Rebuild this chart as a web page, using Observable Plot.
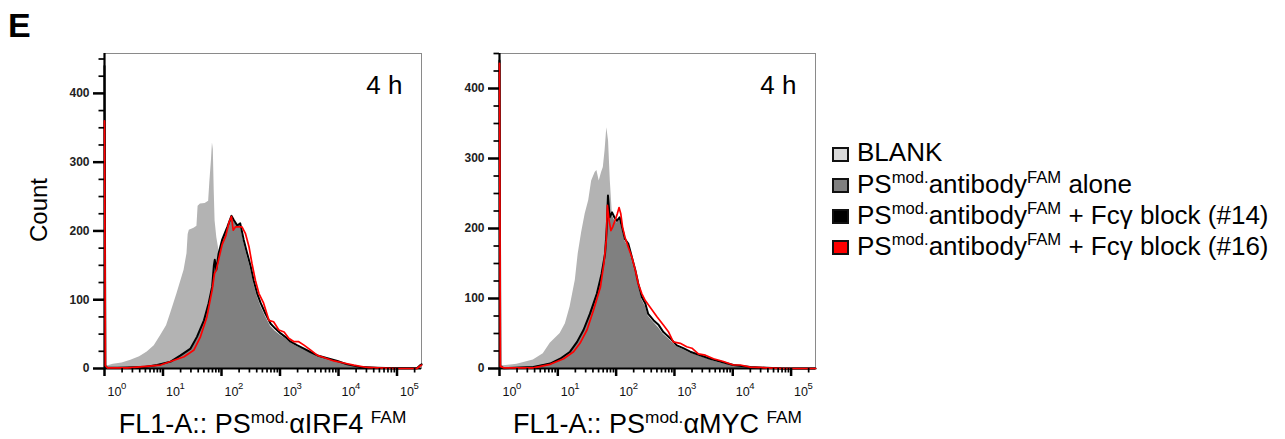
<!DOCTYPE html>
<html><head><meta charset="utf-8">
<script src="https://cdn.jsdelivr.net/npm/d3@7"></script>
<script src="https://cdn.jsdelivr.net/npm/@observablehq/plot@0.6"></script>
<style>
body{margin:0;background:#fff;font-family:"Liberation Sans",Arial,Helvetica,sans-serif;color:#000;}
#wrap{position:relative;width:1285px;height:439px;overflow:hidden;background:#fff;}
.abs{position:absolute;line-height:1;white-space:nowrap;}
.sup{position:relative;top:-0.6em;font-size:0.64em;}
.sq{position:absolute;width:17px;height:15px;box-sizing:border-box;border:2px solid #111;}
</style></head>
<body><div id="wrap">
<div class="abs" style="left:8px;top:8px;font-size:34px;font-weight:bold;">E</div>
<div class="abs" id="count" style="left:-11px;top:198px;width:100px;font-size:24px;text-align:center;transform:rotate(-90deg);">Count</div>
<div class="abs" id="p1" style="left:60px;top:45px;"></div>
<div class="abs" id="p2" style="left:455px;top:45px;"></div>
<div class="abs" id="t1" style="left:62.5px;top:411px;width:400px;text-align:center;font-size:27px;"></div>
<div class="abs" id="t2" style="left:457.5px;top:411px;width:400px;text-align:center;font-size:27px;"></div>
<div id="legend"></div>
</div>
<script>
// ---- axis / tick data ----
const xDomain = [1, 262144];
const xMajor = [1, 10, 100, 1000, 10000, 100000];
const xTickBase = "10";
const xTickExp = ["0", "1", "2", "3", "4", "5"];
const xMinorMult = [2, 3, 4, 5, 6, 7, 8, 9];
const yMajor = [0, 100, 200, 300, 400];
const yMinor = [25, 50, 75, 125, 150, 175, 225, 250, 275, 325, 350, 375, 425, 450];
const timeLabel = "4 h";
const panelTitles = [["FL1-A:: PS", "mod.", "αIRF4 ", "FAM"], ["FL1-A:: PS", "mod.", "αMYC ", "FAM"]];
const legendLabels = [
  ["BLANK"],
  ["PS", "mod.", "antibody", "FAM", " alone"],
  ["PS", "mod.", "antibody", "FAM", " + Fcγ block (#14)"],
  ["PS", "mod.", "antibody", "FAM", " + Fcγ block (#16)"]
];
const legendColors = ["#d9d9d9", "#808080", "#000000", "#ff0000"];
const yMaxIRF4 = 458, yMaxMYC = 450;

// ---- series: [log10(FL1-A), count] ----
const blankIRF4 = [[0,280],[0.015,5],[0.06,4],[0.15,6],[0.3,8],[0.45,12],[0.6,17],[0.73,24],[0.85,33],[0.96,48],[1.06,62],[1.13,80],[1.24,109],[1.36,143],[1.41,167],[1.43,195],[1.45,201],[1.53,204],[1.58,207],[1.60,236],[1.64,239],[1.72,240],[1.78,243],[1.80,270],[1.83,305],[1.845,328],[1.86,318],[1.875,260],[1.89,215],[1.92,190],[1.96,170],[2.02,145],[2.1,118],[2.2,90],[2.3,68],[2.45,48],[2.6,34],[2.8,22],[3.0,14],[3.3,8],[3.6,4],[4.0,1.5],[4.5,0],[5.42,0]];
const aloneIRF4 = [[0,420],[0.015,3],[0.05,1],[0.39,1.5],[0.9,5],[1.13,10],[1.30,18],[1.47,28],[1.58,44],[1.70,68],[1.78,92],[1.84,116],[1.87,145],[1.885,150],[1.91,140],[1.95,163],[2.01,184],[2.10,204],[2.17,219],[2.21,214],[2.27,207],[2.32,208],[2.38,184],[2.44,163],[2.50,144],[2.55,124],[2.61,105],[2.67,91],[2.75,76],[2.84,61],[2.92,54],[3.01,48],[3.09,44],[3.18,37],[3.29,32],[3.41,28],[3.52,23],[3.64,18],[3.81,14],[3.98,10],[4.15,6],[4.38,2],[4.66,1],[5.42,0]];
const fc14IRF4 = [[0,440],[0.015,3],[0.05,1],[0.22,1],[0.39,1.5],[0.67,2],[0.9,5],[1.13,10],[1.30,19],[1.47,29],[1.58,46],[1.70,70],[1.78,95],[1.84,119],[1.87,150],[1.885,158],[1.91,143],[1.95,167],[2.01,187],[2.10,206],[2.17,222],[2.21,216],[2.27,208],[2.32,211],[2.38,187],[2.44,167],[2.50,148],[2.55,128],[2.61,109],[2.67,95],[2.75,80],[2.84,65],[2.92,58],[3.01,51],[3.09,46],[3.18,39],[3.29,34],[3.41,29],[3.52,24],[3.64,19],[3.81,15],[3.98,11],[4.15,6],[4.38,2],[4.66,1],[4.95,0.5],[5.34,0.5],[5.40,5],[5.42,6]];
const fc16IRF4 = [[0,360],[0.015,4],[0.05,1],[0.39,1],[0.56,2],[0.96,5],[1.19,12],[1.36,17],[1.53,27],[1.64,46],[1.75,75],[1.84,114],[1.88,138],[1.91,143],[1.95,158],[2.01,180],[2.07,192],[2.13,213],[2.17,221],[2.20,201],[2.24,206],[2.35,206],[2.41,196],[2.47,177],[2.52,153],[2.58,128],[2.64,109],[2.72,95],[2.81,70],[2.89,68],[2.98,56],[3.07,53],[3.15,44],[3.24,39],[3.32,39],[3.41,34],[3.52,27],[3.64,19],[3.75,16],[3.92,11],[4.09,8],[4.26,5],[4.49,1.5],[4.95,0],[5.34,0],[5.40,4],[5.42,5]];

const blankMYC = [[0,300],[0.015,5],[0.07,4],[0.30,6],[0.58,12],[0.75,21],[0.87,36],[1.04,50],[1.13,64],[1.21,88],[1.30,126],[1.35,164],[1.41,195],[1.47,221],[1.53,240],[1.58,268],[1.64,280],[1.67,283],[1.71,268],[1.75,280],[1.78,287],[1.81,311],[1.84,344],[1.87,325],[1.90,268],[1.95,202],[2.01,173],[2.13,135],[2.24,107],[2.35,78],[2.58,50],[2.87,31],[3.15,19],[3.73,7],[4.30,2],[4.8,0],[5.42,0]];
const aloneMYC = [[0,420],[0.015,3],[0.07,1],[0.58,2],[0.87,7],[1.04,13],[1.21,23],[1.33,36],[1.44,53],[1.55,76],[1.67,104],[1.75,132],[1.81,160],[1.84,198],[1.86,240],[1.89,212],[1.93,219],[1.97,212],[2.01,208],[2.06,212],[2.10,199],[2.15,182],[2.21,174],[2.27,155],[2.33,136],[2.38,118],[2.44,99],[2.50,89],[2.55,75],[2.64,66],[2.73,58],[2.81,49],[2.93,40],[3.04,31],[3.15,27],[3.27,22],[3.44,17],[3.61,12],[3.78,8],[4.01,4],[4.30,1],[4.87,0],[5.42,0]];
const fc14MYC = [[0,440],[0.015,3],[0.07,0.5],[0.58,2],[0.75,5],[0.87,7],[1.04,14],[1.21,24],[1.33,38],[1.44,55],[1.55,78],[1.67,107],[1.75,135],[1.81,164],[1.84,202],[1.86,247],[1.89,216],[1.93,223],[1.97,216],[2.01,211],[2.06,216],[2.10,202],[2.15,185],[2.21,178],[2.27,159],[2.33,140],[2.38,121],[2.44,102],[2.50,93],[2.55,78],[2.64,69],[2.73,62],[2.81,52],[2.93,43],[3.04,33],[3.15,29],[3.27,24],[3.44,19],[3.61,14],[3.78,10],[4.01,5],[4.30,2],[4.58,1],[4.87,0],[5.42,0]];
const fc16MYC = [[0,436],[0.015,3],[0.07,1],[0.58,1],[0.87,6],[1.10,14],[1.27,24],[1.38,36],[1.50,55],[1.61,83],[1.73,116],[1.79,150],[1.83,183],[1.85,233],[1.88,211],[1.91,197],[1.94,202],[1.98,211],[2.02,221],[2.05,230],[2.08,221],[2.11,202],[2.15,188],[2.21,173],[2.27,159],[2.33,140],[2.38,121],[2.44,107],[2.50,97],[2.58,88],[2.70,74],[2.81,62],[2.90,52],[2.98,38],[3.10,36],[3.21,31],[3.30,29],[3.41,21],[3.53,19],[3.67,14],[3.84,10],[4.01,5],[4.13,5],[4.30,2],[4.58,1],[4.87,0],[5.42,0]];

// ---- build ----
const xMinor = xMajor.flatMap(d => xMinorMult.map(m => m * d)).filter(v => v < xDomain[1]);
const pts = arr => arr.map(([e, c]) => ({x: Math.pow(10, e), y: c}));
const FONT = "'Liberation Sans', Arial, Helvetica, sans-serif";
const PH = 315; // plot-area height in px

function panel(s, plotW) {
  return Plot.plot({
    width: 44 + plotW + 6, height: 8 + PH + 32,
    marginLeft: 44, marginRight: 6, marginTop: 8, marginBottom: 32,
    x: {type: "log", domain: xDomain, axis: null},
    y: {domain: [0, s.yMax], axis: null},
    style: {fontFamily: FONT, background: "transparent", overflow: "visible"},
    marks: [
      Plot.frame({stroke: "#8a8a8a", strokeWidth: 1}),
      Plot.areaY(pts(s.blank), {x: "x", y: "y", fill: "#b3b3b3", curve: "linear", clip: true}),
      Plot.areaY(pts(s.alone), {x: "x", y: "y", fill: "#808080", curve: "linear", clip: true}),
      Plot.ruleX([xDomain[0]], {stroke: "#000", strokeWidth: 2.2}),
      Plot.ruleY([0], {stroke: "#000", strokeWidth: 2.2}),
      Plot.line(pts(s.fc14), {x: "x", y: "y", stroke: "#000", strokeWidth: 2, curve: "linear"}),
      Plot.line(pts(s.fc16), {x: "x", y: "y", stroke: "#ff0000", strokeWidth: 1.7, curve: "linear"}),
      // tick marks (outside the frame, via negative insets)
      Plot.tickX(xMajor, {x: d => d, insetTop: PH, insetBottom: -8, stroke: "#000", strokeWidth: 2.5}),
      Plot.tickX(xMinor, {x: d => d, insetTop: PH, insetBottom: -4.5, stroke: "#000", strokeWidth: 1.7}),
      Plot.tickY(yMajor, {y: d => d, insetLeft: -11, insetRight: plotW, stroke: "#000", strokeWidth: 2.5}),
      Plot.tickY(yMinor, {y: d => d, insetLeft: -5.5, insetRight: plotW, stroke: "#000", strokeWidth: 1.7}),
      // tick labels: 10 with superscript exponent
      Plot.text(xMajor, {x: d => d, frameAnchor: "bottom", text: () => xTickBase, dy: 19, dx: 3, lineAnchor: "top", textAnchor: "start", fontSize: 12.5, fill: "#111"}),
      Plot.text(xMajor, {x: d => d, frameAnchor: "bottom", text: d => xTickExp[xMajor.indexOf(d)], dy: 14, dx: 16.5, lineAnchor: "top", textAnchor: "start", fontSize: 9.5, fill: "#111"}),
      Plot.text(yMajor, {y: d => d, frameAnchor: "left", text: d => String(d), dx: -15, textAnchor: "end", fontSize: 12, fontWeight: "bold", fill: "#222"}),
      Plot.text([timeLabel], {frameAnchor: "top-right", text: d => d, dx: -19, dy: 22, lineAnchor: "top", textAnchor: "end", fontSize: 26, fill: "#000"})
    ]
  });
}

document.getElementById("p1").appendChild(panel({blank: blankIRF4, alone: aloneIRF4, fc14: fc14IRF4, fc16: fc16IRF4, yMax: yMaxIRF4}, 317));
document.getElementById("p2").appendChild(panel({blank: blankMYC, alone: aloneMYC, fc14: fc14MYC, fc16: fc16MYC, yMax: yMaxMYC}, 316));

function richText(parts) {
  // alternating normal / superscript parts
  return parts.map((p, i) => i % 2 === 1 ? `<span class="sup">${p}</span>` : p).join("");
}
document.getElementById("t1").innerHTML = richText(panelTitles[0]);
document.getElementById("t2").innerHTML = richText(panelTitles[1]);

const legend = document.getElementById("legend");
const baselines = [161.5, 192.8, 224.1, 255.4];
legendLabels.forEach((parts, i) => {
  const sq = document.createElement("div");
  sq.className = "sq";
  sq.style.left = "832px";
  sq.style.top = (baselines[i] - 15) + "px";
  sq.style.background = legendColors[i];
  legend.appendChild(sq);
  const t = document.createElement("div");
  t.className = "abs";
  t.style.left = "857px";
  t.style.top = (baselines[i] - 0.8465 * 26) + "px";
  t.style.fontSize = "26px";
  t.innerHTML = richText(parts);
  legend.appendChild(t);
});
</script>
</body></html>
